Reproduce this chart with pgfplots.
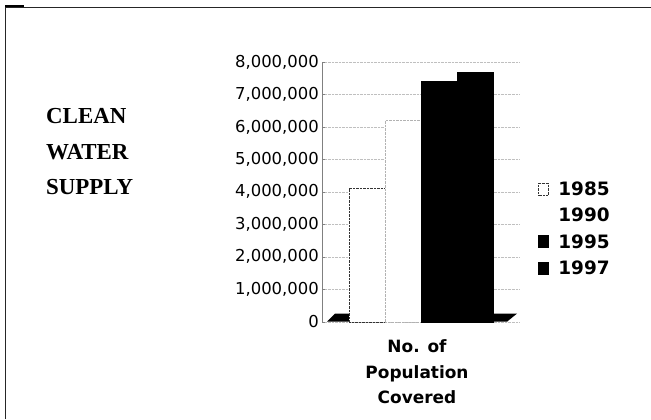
\documentclass[border=0pt]{standalone}
\usepackage{pgfplots}
\pgfplotsset{compat=1.18}
\usepackage{fontspec}
\newfontfamily\dv{DejaVu Sans}
\newfontfamily\dvb{DejaVu Sans Bold}
\newfontfamily\lsb{Liberation Serif Bold}
\begin{document}
\begin{tikzpicture}[x=1bp,y=1bp]
\path[use as bounding box] (0,0) rectangle (651,419);
% frame
\draw[line width=0.9bp, black!85] (5,0) -- (5,412) -- (651,412);
\draw[line width=2bp, black] (5,412.5) -- (24,412.5);
% title
\node[anchor=base west, inner sep=0pt, font=\lsb\fontsize{23}{23}\selectfont] at (46,296) {CLEAN};
\node[anchor=base west, inner sep=0pt, font=\lsb\fontsize{23}{23}\selectfont] at (46,260) {WATER};
\node[anchor=base west, inner sep=0pt, font=\lsb\fontsize{23}{23}\selectfont] at (46,225) {SUPPLY};
\begin{axis}[
  at={(322bp,97.3bp)}, anchor=south west,
  scale only axis, width=198bp, height=259.7bp,
  xmin=-0.5, xmax=0.5, ymin=0, ymax=8000000,
  ybar=0pt, bar width=36bp,
  xtick={0}, xticklabels={{No. of\\Population\\Covered}},
  xtick style={draw=none},
  xticklabel style={align=center, inner sep=0pt, anchor=north, yshift=-15bp, xshift=-4bp,
    font=\dvb\fontsize{17}{25.5}\selectfont},
  ytick={0,1000000,2000000,3000000,4000000,5000000,6000000,7000000,8000000},
  scaled y ticks=false,
  yticklabel style={/pgf/number format/.cd, fixed, 1000 sep={,}, assume math mode=true,
    /tikz/.cd, font=\dv\fontsize{16.5}{16.5}\selectfont, anchor=east, inner sep=0pt, xshift=-3bp},
  axis lines*=left,
  y axis line style={black!50},
  x axis line style={draw=none},
  ytick style={black!50},
  major tick length=3bp,
  ymajorgrids, grid style={black!25, densely dotted},
  legend image code/.code={\draw[#1] (0bp,-6bp) rectangle (10bp,6bp);},
  legend style={at={(1.0909,0.536)}, anchor=north west, draw=none, fill=none,
    inner sep=0pt, outer sep=0pt, row sep=13.3bp,
    font=\dvb\fontsize{18.5}{18.5}\selectfont,
    nodes={inner sep=0pt, text height=13bp, text depth=0pt},
    /tikz/every odd column/.append style={column sep=10bp}},
  legend cell align=left,
  clip=false,
]
% floor pieces
\fill[black] (axis cs:-0.4747,0) -- (axis cs:-0.3636,0) -- (axis cs:-0.3636,250000) -- (axis cs:-0.4343,250000) -- cycle;
\fill[black] (axis cs:0.3687,0) -- (axis cs:0.4343,0) -- (axis cs:0.4848,250000) -- (axis cs:0.3687,250000) -- cycle;
\addplot[fill=white, draw=black!80, densely dotted] coordinates {(0,4100000)};
\addplot[fill=white, draw=black!30, densely dotted,
  legend image code/.code={\fill[white] (0bp,-6bp) rectangle (10bp,6bp);}] coordinates {(0,6200000)};
\addplot[fill=black, draw=black] coordinates {(0,7400000)};
\addplot[fill=black, draw=black] coordinates {(0,7700000)};
\legend{1985,1990,1995,1997}
\end{axis}
\end{tikzpicture}
\end{document}
